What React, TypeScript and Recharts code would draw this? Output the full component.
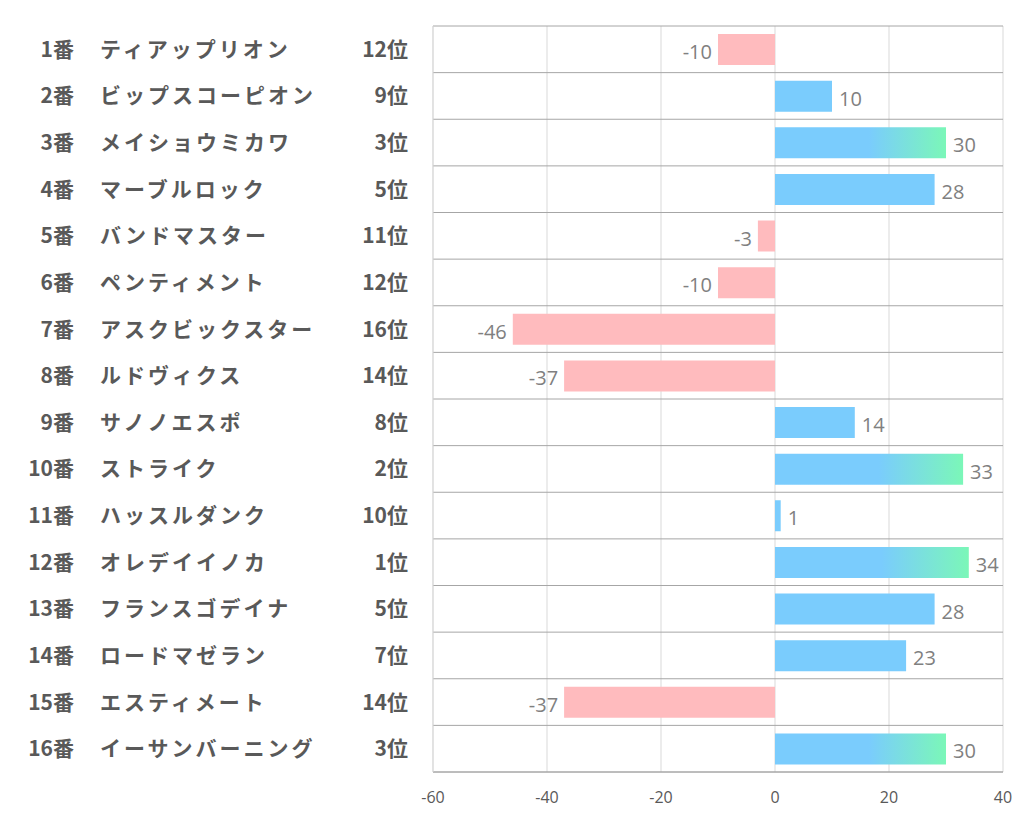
import { BarChart, Bar, XAxis, YAxis, CartesianGrid, Cell, LabelList } from "recharts";

const horseNos = [1, 2, 3, 4, 5, 6, 7, 8, 9, 10, 11, 12, 13, 14, 15, 16];
const horseNames = [
  "ティアップリオン",
  "ビップスコーピオン",
  "メイショウミカワ",
  "マーブルロック",
  "バンドマスター",
  "ペンティメント",
  "アスクビックスター",
  "ルドヴィクス",
  "サノノエスポ",
  "ストライク",
  "ハッスルダンク",
  "オレデイイノカ",
  "フランスゴデイナ",
  "ロードマゼラン",
  "エスティメート",
  "イーサンバーニング",
];
const ranks = [12, 9, 3, 5, 11, 12, 16, 14, 8, 2, 10, 1, 5, 7, 14, 3];
const scores = [-10, 10, 30, 28, -3, -10, -46, -37, 14, 33, 1, 34, 28, 23, -37, 30];
const xTicks = [-60, -40, -20, 0, 20, 40];

const data = horseNos.map((no, i) => ({
  key: `${no}番`,
  name: horseNames[i],
  rank: ranks[i],
  score: scores[i],
}));

const LABEL_FONT = "'Noto Sans CJK JP', 'Noto Sans', sans-serif";
const NUM_FONT = "'Open Sans', 'Noto Sans', sans-serif";

function RowTick({ y, payload }: any) {
  const row = data.find((d) => d.key === payload.value);
  if (!row) return null;
  const style = { fill: "#595959", fontSize: 21, fontWeight: 700, fontFamily: LABEL_FONT };
  const ty = y - 1.5;
  return (
    <g>
      <text x={66} y={ty} textAnchor="end" dominantBaseline="central" {...style}>
        {row.key}
      </text>
      <text x={92} y={ty} textAnchor="start" dominantBaseline="central" letterSpacing={3} {...style}>
        {row.name}
      </text>
      <text x={400} y={ty} textAnchor="end" dominantBaseline="central" {...style}>
        {row.rank}位
      </text>
    </g>
  );
}

function ValueLabel({ x, y, width, height, value }: any) {
  const left = Math.min(x, x + width);
  const right = Math.max(x, x + width);
  const neg = value < 0;
  return (
    <text
      x={neg ? left - 6 : right + 7}
      y={y + height / 2 + 2}
      textAnchor={neg ? "end" : "start"}
      dominantBaseline="central"
      fill="#808080"
      fontSize={20}
      fontFamily={NUM_FONT}
    >
      {value}
    </text>
  );
}

export default function App() {
  const rows = data.length;
  return (
    <BarChart
      width={1010}
      height={818}
      data={data}
      layout="vertical"
      margin={{ top: 18, right: 15, bottom: 0, left: 0 }}
    >
      <defs>
        <linearGradient id="topGrad" x1="0" y1="0" x2="1" y2="0">
          <stop offset="0" stopColor="#7accfd" />
          <stop offset="0.55" stopColor="#7accfd" />
          <stop offset="1" stopColor="#7bf7b8" />
        </linearGradient>
      </defs>
      <XAxis
        type="number"
        domain={[-60, 40]}
        ticks={xTicks}
        axisLine={{ stroke: "#a6a6a6" }}
        tickLine={false}
        tick={{ fill: "#595959", fontSize: 16, fontFamily: NUM_FONT }}
        tickMargin={14}
        height={54}
      />
      <YAxis
        type="category"
        dataKey="key"
        width={425}
        axisLine={{ stroke: "#d9d9d9" }}
        tickLine={false}
        tick={<RowTick />}
        interval={0}
      />
      <CartesianGrid stroke="#d9d9d9" horizontal={false} />
      <CartesianGrid
        stroke="#a6a6a6"
        vertical={false}
        horizontalCoordinatesGenerator={({ offset }: any) =>
          Array.from({ length: rows + 1 }, (_, i) => offset.top + (i * offset.height) / rows)
        }
      />
      <Bar dataKey="score" barSize={31} isAnimationActive={false}>
        {data.map((d) => (
          <Cell
            key={d.key}
            fill={d.score < 0 ? "#ffbbbe" : d.rank <= 3 ? "url(#topGrad)" : "#7accfd"}
          />
        ))}
        <LabelList dataKey="score" content={<ValueLabel />} />
      </Bar>
    </BarChart>
  );
}
